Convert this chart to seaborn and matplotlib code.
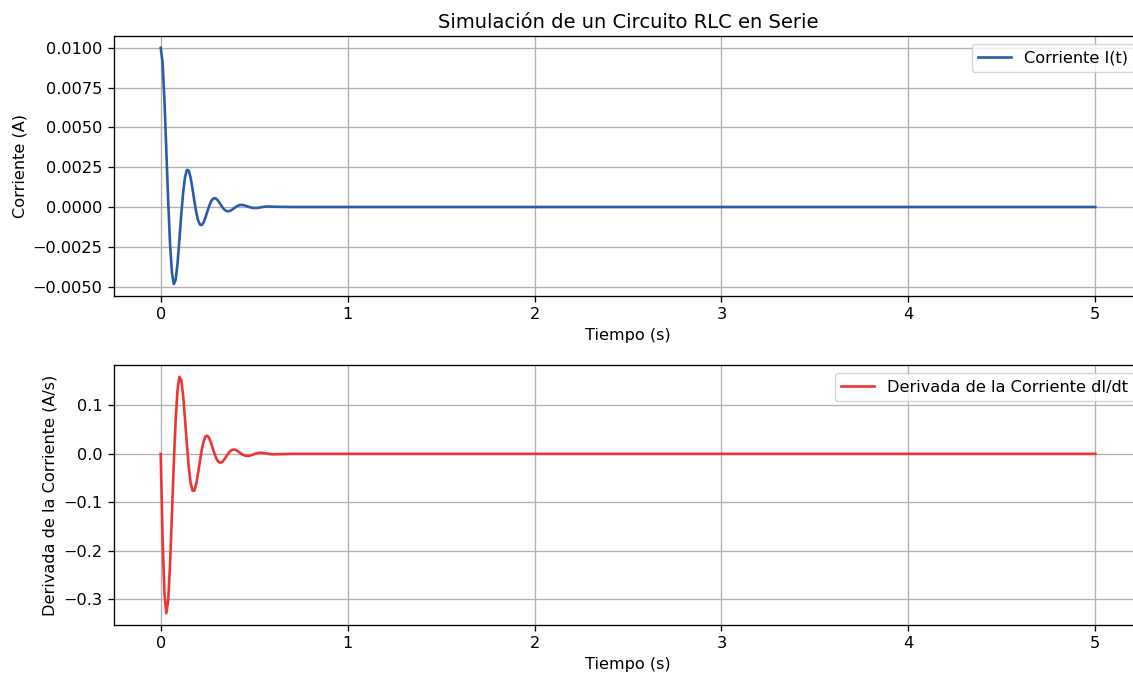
import matplotlib
matplotlib.use("Agg")
import matplotlib.pyplot as plt
from matplotlib.ticker import MultipleLocator, FuncFormatter
import seaborn as sns
import pandas as pd

# Time samples (s)
tiempo = [0.00, 0.01, 0.02, 0.03, 0.04, 0.05, 0.06, 0.07, 0.08, 0.09,
          0.10, 0.11, 0.12, 0.13, 0.14, 0.15, 0.16, 0.17, 0.18, 0.19,
          0.20, 0.21, 0.22, 0.23, 0.24, 0.25, 0.26, 0.27, 0.28, 0.29,
          0.30, 0.31, 0.32, 0.33, 0.34, 0.35, 0.36, 0.37, 0.38, 0.39,
          0.40, 0.41, 0.42, 0.43, 0.44, 0.45, 0.46, 0.47, 0.48, 0.49,
          0.50, 0.51, 0.52, 0.53, 0.54, 0.55, 0.56, 0.57, 0.58, 0.59,
          0.60, 0.70, 1.00, 2.00, 3.00, 4.00, 5.00]

# Current I(t) in A
corriente = [0.010000, 0.009077, 0.006701, 0.003559, 0.000351, -0.002339, -0.004123, -0.004848, -0.004575, -0.003535,
             -0.002051, -0.000470, 0.000908, 0.001874, 0.002330, 0.002287, 0.001844, 0.001152, 0.000379, -0.000321,
             -0.000837, -0.001110, -0.001135, -0.000954, -0.000634, -0.000259, 0.000094, 0.000366, 0.000524, 0.000559,
             0.000488, 0.000343, 0.000163, -0.000014, -0.000156, -0.000244, -0.000273, -0.000248, -0.000183, -0.000097,
             -0.000010, 0.000064, 0.000113, 0.000133, 0.000125, 0.000096, 0.000056, 0.000013, -0.000025, -0.000051,
             -0.000063, -0.000063, -0.000050, -0.000032, -0.000010, 0.000009, 0.000023, 0.000030, 0.000031, 0.000026,
             0.000017, 0.0, 0.0, 0.0, 0.0, 0.0, 0.0]

# Derivative dI/dt in A/s
derivada = [0.0, -0.1754, -0.2877, -0.3283, -0.3029, -0.2279, -0.1259, -0.0199, 0.0705, 0.1319,
            0.1586, 0.1521, 0.1197, 0.0717, 0.0196, -0.0265, -0.0595, -0.0760, -0.0758, -0.0622,
            -0.0399, -0.0145, 0.0088, 0.0264, 0.0360, 0.0375, 0.0320, 0.0218, 0.0095, -0.0022,
            -0.0114, -0.0169, -0.0184, -0.0164, -0.0117, -0.0059, 0.0, 0.0048, 0.0079, 0.0089,
            0.0083, 0.0062, 0.0034, 0.0005, -0.0019, -0.0036, -0.0044, -0.0042, -0.0033, -0.0019,
            -0.0005, 0.0007, 0.0016, 0.0021, 0.0021, 0.0017, 0.0011, 0.0004, -0.0002, -0.0007,
            -0.0010, 0.0, 0.0, 0.0, 0.0, 0.0, 0.0]

df = pd.DataFrame({"t": tiempo, "I": corriente, "dI": derivada})

plt.rcParams["font.family"] = ["DejaVu Sans"]
plt.rcParams["font.size"] = 11.6
plt.rcParams["axes.linewidth"] = 0.95
plt.rcParams["xtick.major.size"] = 4.1
plt.rcParams["ytick.major.size"] = 4.1
plt.rcParams["xtick.major.width"] = 0.95
plt.rcParams["ytick.major.width"] = 0.95
plt.rcParams["xtick.major.pad"] = 4.1
plt.rcParams["ytick.major.pad"] = 4.1

fig = plt.figure(figsize=(11.33, 6.77), dpi=100)
ax1 = fig.add_axes([0.1006, 0.5628, 0.9074, 0.3840])
ax2 = fig.add_axes([0.1006, 0.0768, 0.9074, 0.3840])

sns.lineplot(data=df, x="t", y="I", ax=ax1, color="#2C5BAA", linewidth=1.9,
             label="Corriente I(t)")
ax1.set_title("Simulación de un Circuito RLC en Serie", fontsize=14)
ax1.set_xlabel("Tiempo (s)")
ax1.set_ylabel("Corriente (A)")
ax1.yaxis.set_major_locator(MultipleLocator(0.0025))
ax1.yaxis.set_major_formatter(FuncFormatter(lambda v, p: f"{v:.4f}".replace("-", "\u2212")))
ax1.grid(True, color="#b0b0b0", linewidth=0.95)
ax1.legend(loc="upper right")

sns.lineplot(data=df, x="t", y="dI", ax=ax2, color="#EE3535", linewidth=1.9,
             label="Derivada de la Corriente dI/dt")
ax2.set_xlabel("Tiempo (s)")
ax2.set_ylabel("Derivada de la Corriente (A/s)")
ax2.grid(True, color="#b0b0b0", linewidth=0.95)
ax2.legend(loc="upper right")

fig.savefig("out.png", dpi=100)
